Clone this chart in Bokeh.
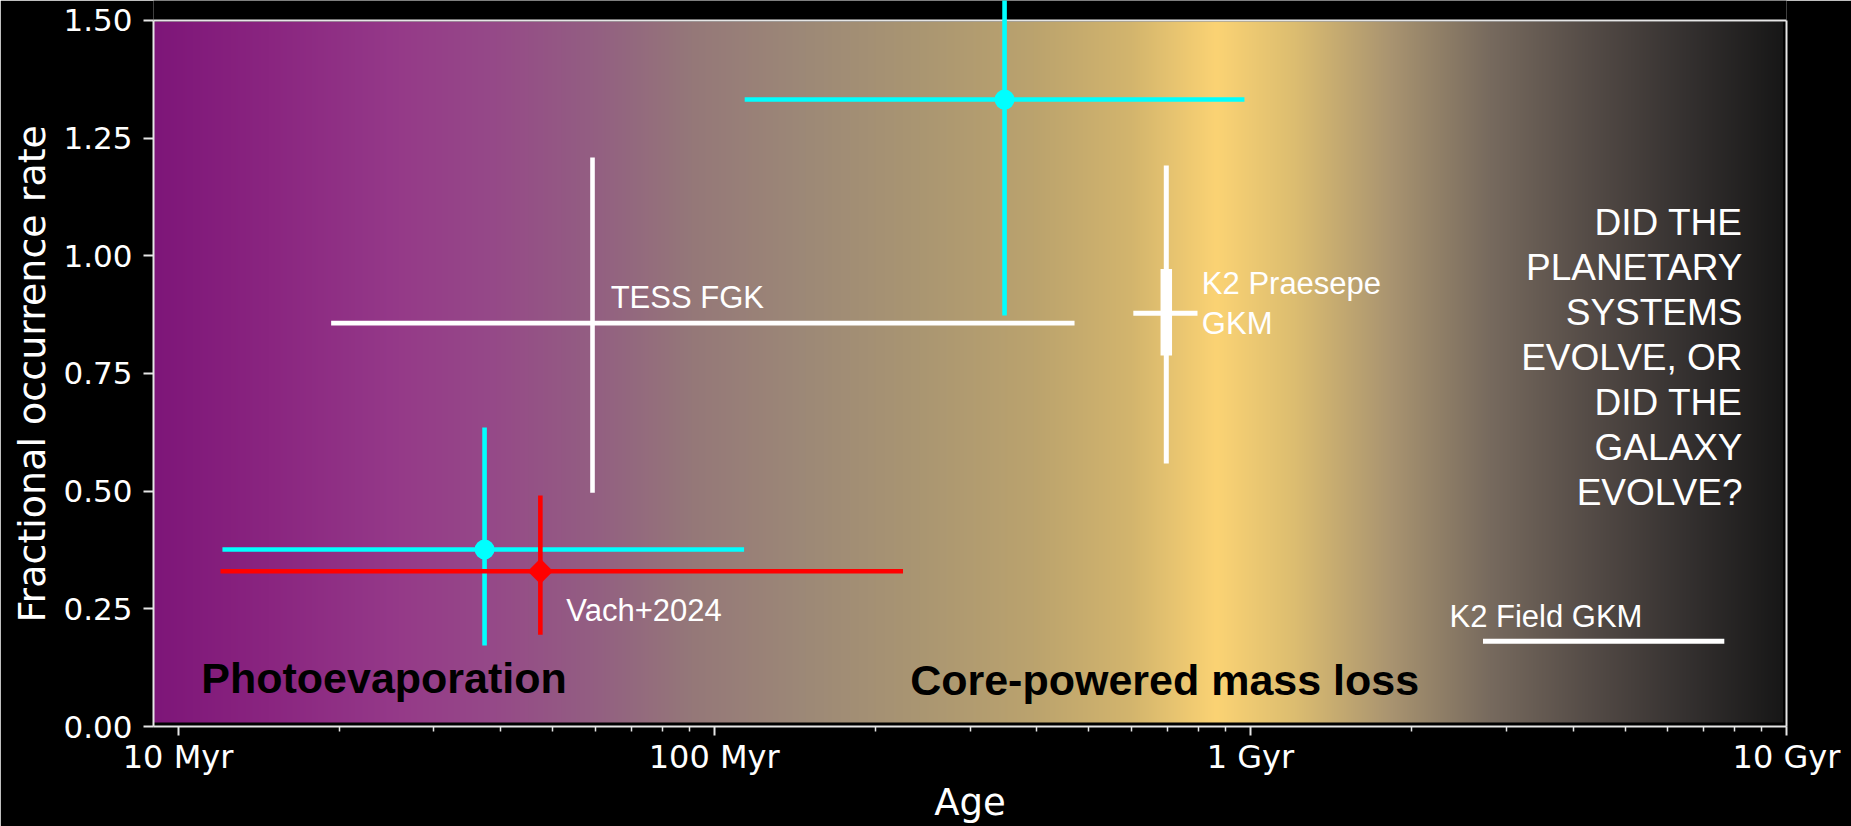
import numpy as np
from bokeh.plotting import figure
from bokeh.models import FixedTicker, LinearAxis, Title
from bokeh.core.properties import value
from bokeh.embed import file_html
from bokeh.resources import INLINE

# ---------------------------------------------------------------
# Measurements (age in Myr, fractional occurrence rate)
# ---------------------------------------------------------------
# Cyan bins: young and intermediate clusters
cyan_age = [37.3, 348.0]
cyan_age_lo = [12.1, 114.0]
cyan_age_hi = [113.7, 975.0]
cyan_rate = [0.376, 1.332]
cyan_rate_lo = [0.172, 0.873]
cyan_rate_hi = [0.635, 1.80]

# Vach+2024
vach_age = [47.4]
vach_age_lo = [12.0]
vach_age_hi = [225.0]
vach_rate = [0.330]
vach_rate_lo = [0.195]
vach_rate_hi = [0.491]

# TESS FGK
tess_age = [59.3]
tess_age_lo = [19.3]
tess_age_hi = [470.0]
tess_rate = [0.857]
tess_rate_lo = [0.4965]
tess_rate_hi = [1.209]

# K2 Praesepe GKM (inner = 1 sigma, outer = 2 sigma)
prae_age = [697.0]
prae_age_lo = [605.0]
prae_age_hi = [797.0]
prae_rate = [0.878]
prae_rate_in_lo = [0.788]
prae_rate_in_hi = [0.972]
prae_rate_out_lo = [0.559]
prae_rate_out_hi = [1.192]

# K2 Field GKM reference level
field_age_lo = [2716.0]
field_age_hi = [7656.0]
field_rate = [0.181]

# Axes
x_tick_values = [10, 100, 1000, 10000]
x_tick_labels = ["10 Myr", "100 Myr", "1 Gyr", "10 Gyr"]
x_minor_values = [m * d for d in (10, 100, 1000) for m in range(2, 10)]
y_tick_values = [0.0, 0.25, 0.5, 0.75, 1.0, 1.25, 1.5]
y_tick_labels = ["0.00", "0.25", "0.50", "0.75", "1.00", "1.25", "1.50"]

question_lines = ["DID THE", "PLANETARY", "SYSTEMS", "EVOLVE, OR",
                  "DID THE", "GALAXY", "EVOLVE?"]

# Background colour ramp: (fraction across the age axis, colour)
ramp = [
    (0.000, "#7e1679"), (0.070, "#8a2580"), (0.150, "#953a89"),
    (0.210, "#964a88"), (0.270, "#935f82"), (0.330, "#957879"),
    (0.400, "#9d8977"), (0.470, "#aa9672"), (0.540, "#bba36e"),
    (0.600, "#d3b56d"), (0.652, "#fbd374"), (0.700, "#dcbd70"),
    (0.760, "#a89370"), (0.820, "#776a5e"), (0.880, "#554c47"),
    (0.940, "#353130"), (1.000, "#171717"),
]

# ---------------------------------------------------------------
X_MIN, X_MAX = 9.0, 10000.0
PX_PER_UNIT = 470.67
FRAME_H = 726
Y_TOP = FRAME_H / PX_PER_UNIT     # frame reaches a little above 1.5

p = figure(frame_width=1633, frame_height=FRAME_H, x_axis_type="log",
           x_range=(X_MIN, X_MAX), y_range=(0, Y_TOP),
           output_backend="svg", toolbar_location=None,
           min_border_left=153, min_border_right=65,
           min_border_top=0, min_border_bottom=100)
p.background_fill_color = "black"
p.border_fill_color = "black"
p.outline_line_color = None
p.grid.visible = False

# gradient background
ncol = 1630
f = np.linspace(0, 1, ncol)
stops = np.array([s[0] for s in ramp])
rgb = np.array([[int(c[1][i:i + 2], 16) for i in (1, 3, 5)] for c in ramp])
img = np.zeros((2, ncol), dtype=np.uint32)
view = img.view(dtype=np.uint8).reshape((2, ncol, 4))
for k in range(3):
    view[:, :, k] = np.interp(f, stops, rgb[:, k]).astype(np.uint8)
view[:, :, 3] = 255
g_bottom, g_top, g_right = 0.0085, 1.498, 9858.0
p.image_rgba(image=[img], x=X_MIN, y=g_bottom, dw=g_right - X_MIN,
             dh=g_top - g_bottom)

# top spine
p.segment(x0=[X_MIN], y0=[1.5], x1=[X_MAX], y1=[1.5],
          line_color="#e6e6e6", line_width=2)

LW = 4.6
# TESS FGK
p.segment(x0=tess_age_lo, y0=tess_rate, x1=tess_age_hi, y1=tess_rate,
          line_color="white", line_width=LW)
p.segment(x0=tess_age, y0=tess_rate_lo, x1=tess_age, y1=tess_rate_hi,
          line_color="white", line_width=LW)

# K2 Praesepe
p.segment(x0=prae_age, y0=prae_rate_out_lo, x1=prae_age, y1=prae_rate_out_hi,
          line_color="white", line_width=5)
p.segment(x0=prae_age, y0=prae_rate_in_lo, x1=prae_age, y1=prae_rate_in_hi,
          line_color="white", line_width=11.5)
p.segment(x0=prae_age_lo, y0=prae_rate, x1=prae_age_hi, y1=prae_rate,
          line_color="white", line_width=5)

# K2 field
p.segment(x0=field_age_lo, y0=field_rate, x1=field_age_hi, y1=field_rate,
          line_color="white", line_width=5)

# cyan
p.segment(x0=cyan_age_lo, y0=cyan_rate, x1=cyan_age_hi, y1=cyan_rate,
          line_color="#00ffff", line_width=LW)
p.segment(x0=cyan_age, y0=cyan_rate_lo, x1=cyan_age, y1=cyan_rate_hi,
          line_color="#00ffff", line_width=LW)
p.scatter(x=cyan_age, y=cyan_rate, marker="circle", size=20,
          fill_color="#00ffff", line_color=None)

# Vach+2024
p.segment(x0=vach_age_lo, y0=vach_rate, x1=vach_age_hi, y1=vach_rate,
          line_color="#ff0000", line_width=LW)
p.segment(x0=vach_age, y0=vach_rate_lo, x1=vach_age, y1=vach_rate_hi,
          line_color="#ff0000", line_width=LW)
p.scatter(x=vach_age, y=vach_rate, marker="square", angle=np.pi / 4,
          size=18, fill_color="#ff0000", line_color=None)


# annotations (baseline positions; the svg text sits ~0.35 em low)
def lift(ys, fs):
    return [y + 0.35 * fs / PX_PER_UNIT for y in ys]


SANS = value("Liberation Sans")
p.text(x=[64.1, 53.0, 812.0, 812.0, 2352.0],
       y=lift([0.8875, 0.2237, 0.919, 0.834, 0.211], 31),
       text=["TESS FGK", "Vach+2024", "K2 Praesepe", "GKM", "K2 Field GKM"],
       text_font=SANS, text_font_size="31px", text_color="white",
       text_align="left", text_baseline="alphabetic")

q_y = [1.0432 - 0.0956 * i for i in range(len(question_lines))]
p.text(x=[8280.0] * len(question_lines), y=lift(q_y, 37),
       text=question_lines,
       text_font=SANS, text_font_size="37px", text_color="white",
       text_align="right", text_baseline="alphabetic")

p.text(x=[11.05, 232.0], y=lift([0.0716, 0.0659], 43),
       text=["Photoevaporation", "Core-powered mass loss"],
       text_font=SANS, text_font_style="bold", text_font_size="43px",
       text_color="black", text_align="left", text_baseline="alphabetic")

# axes
AX = "#e6e6e6"
xa = p.xaxis[0]
xa.ticker = FixedTicker(ticks=x_tick_values, minor_ticks=x_minor_values)
xa.major_label_overrides = dict(zip(x_tick_values, x_tick_labels))
xa.axis_line_color = AX
xa.axis_line_width = 2
xa.major_tick_line_color = AX
xa.major_tick_line_width = 2
xa.major_tick_out = 9
xa.major_tick_in = 0
xa.minor_tick_line_color = AX
xa.minor_tick_line_width = 1.5
xa.minor_tick_out = 5
xa.minor_tick_in = 0
xa.major_label_text_color = "white"
xa.major_label_text_font = "DejaVu Sans"
xa.major_label_text_font_size = "32px"
xa.major_label_standoff = 2
xa.axis_label = "Age"
xa.axis_label_text_font = "DejaVu Sans"
xa.axis_label_text_font_size = "37px"
xa.axis_label_text_font_style = "normal"
xa.axis_label_text_color = "white"
xa.axis_label_standoff = 2

ya = p.yaxis[0]
ya.bounds = (0, 1.5)
ya.ticker = FixedTicker(ticks=y_tick_values)
ya.major_label_overrides = dict(zip(y_tick_values, y_tick_labels))
ya.axis_line_color = AX
ya.axis_line_width = 2
ya.major_tick_line_color = AX
ya.major_tick_line_width = 2
ya.major_tick_out = 10
ya.major_tick_in = 0
ya.minor_tick_line_color = None
ya.major_label_text_color = "white"
ya.major_label_text_font = "DejaVu Sans"
ya.major_label_text_font_size = "31px"
ya.major_label_standoff = 11

ra = LinearAxis(bounds=(0, 1.5), ticker=FixedTicker(ticks=[]),
                axis_line_color=AX, axis_line_width=2,
                major_tick_line_color=None, minor_tick_line_color=None,
                major_label_text_color=None)
p.add_layout(ra, "right")

p.add_layout(Title(text="Fractional occurrence rate", align="left",
                   offset=104, standoff=13,
                   text_font="DejaVu Sans", text_font_size="38px",
                   text_font_style="normal", text_color="white"), "left")

open("out.html", "w").write(file_html(p, INLINE))
